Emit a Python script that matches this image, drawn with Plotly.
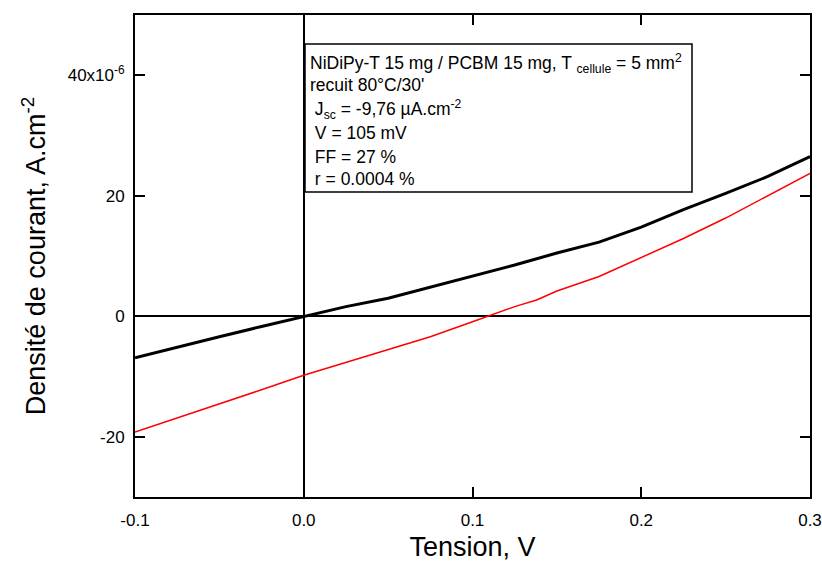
import plotly.graph_objects as go

# Data (V in volts, J in µA/cm² ; plotted in A/cm²)
tension = [-0.1, -0.075, -0.05, -0.025, 0.0, 0.025, 0.05, 0.075, 0.1, 0.125, 0.15, 0.175, 0.2, 0.225, 0.25, 0.275, 0.3]
j_dark_uA = [-6.9, -5.1, -3.4, -1.7, 0.0, 1.6, 3.0, 4.8, 6.7, 8.5, 10.5, 12.3, 14.8, 17.7, 20.4, 23.2, 26.5]

tension_light = [-0.1, -0.075, -0.05, -0.025, 0.0, 0.025, 0.05, 0.075, 0.1, 0.125, 0.138, 0.15, 0.175, 0.2, 0.225, 0.25, 0.275, 0.3]
j_light_uA = [-19.2, -16.9, -14.6, -12.2, -9.8, -7.7, -5.6, -3.4, -0.9, 1.6, 2.7, 4.2, 6.6, 9.7, 12.9, 16.3, 20.0, 23.7]

y_tickvals_uA = [-20, 0, 20, 40]
y_ticktext = ["-20", "0", "20", "40x10<sup>-6</sup>"]
x_tickvals = [-0.1, 0.0, 0.1, 0.2, 0.3]
x_ticktext = ["-0.1", "0.0", "0.1", "0.2", "0.3"]

info_lines = [
    "NiDiPy-T 15 mg / PCBM 15 mg, T <sub>cellule</sub> = 5 mm<sup>2</sup>",
    "recuit 80°C/30'",
    " J<sub>sc</sub> = -9,76 µA.cm<sup>-2</sup>",
    " V = 105 mV",
    " FF = 27 %",
    " r = 0.0004 %",
]

E = 1e-6
fig = go.Figure()
fig.add_trace(go.Scatter(x=tension, y=[v * E for v in j_dark_uA], mode="lines",
                         line=dict(color="black", width=3), showlegend=False, hoverinfo="skip"))
fig.add_trace(go.Scatter(x=tension_light, y=[v * E for v in j_light_uA], mode="lines",
                         line=dict(color="#ff0000", width=1.5), showlegend=False, hoverinfo="skip"))

font = "Liberation Sans, Arial, sans-serif"
L, R, T, B = 135, 810, 15, 497
W, H = 822, 564
fig.update_layout(
    width=W, height=H,
    margin=dict(l=L, r=W - R, t=T, b=H - B),
    paper_bgcolor="white", plot_bgcolor="white",
    font=dict(family=font, size=17, color="black"),
    xaxis=dict(range=[-0.1, 0.3], tickvals=x_tickvals, ticktext=x_ticktext,
               ticks="inside", ticklen=10, tickwidth=1.5, tickcolor="black",
               showline=True, linewidth=2, linecolor="black", mirror="allticks",
               showgrid=False, zeroline=True, zerolinecolor="black", zerolinewidth=1.5,
               tickfont=dict(size=17), ticklabelstandoff=7, automargin=False,
               title=dict(text="Tension, V", font=dict(size=27), standoff=8)),
    yaxis=dict(range=[-30 * E, 50 * E], tickvals=[v * E for v in y_tickvals_uA], ticktext=y_ticktext,
               ticks="inside", ticklen=10, tickwidth=1.5, tickcolor="black",
               showline=True, linewidth=2, linecolor="black", mirror="allticks",
               showgrid=False, zeroline=True, zerolinecolor="black", zerolinewidth=1.5,
               tickfont=dict(size=17), ticklabelstandoff=5, automargin=False,
               title=dict(text="Densité de courant, A.cm<sup>-2</sup>", font=dict(size=27), standoff=14)),
)

# info box
fig.add_shape(type="rect", xref="paper", yref="paper",
              x0=(305 - L) / (R - L), x1=(692 - L) / (R - L),
              y0=(B - 192) / (B - T), y1=(B - 44) / (B - T),
              line=dict(color="black", width=1.5), fillcolor="white", layer="above")
line_y = [64, 85, 110, 133, 157, 179]
for txt, yy in zip(info_lines, line_y):
    fig.add_annotation(xref="paper", yref="paper", x=(308 - L) / (R - L), y=(B - yy) / (B - T),
                       text=txt, showarrow=False, xanchor="left", yanchor="middle",
                       font=dict(size=17.5, family=font, color="black"))

fig.write_html("out.html", config={"displayModeBar": False},
               post_script="document.body.style.margin='0';document.body.style.overflow='hidden';")
